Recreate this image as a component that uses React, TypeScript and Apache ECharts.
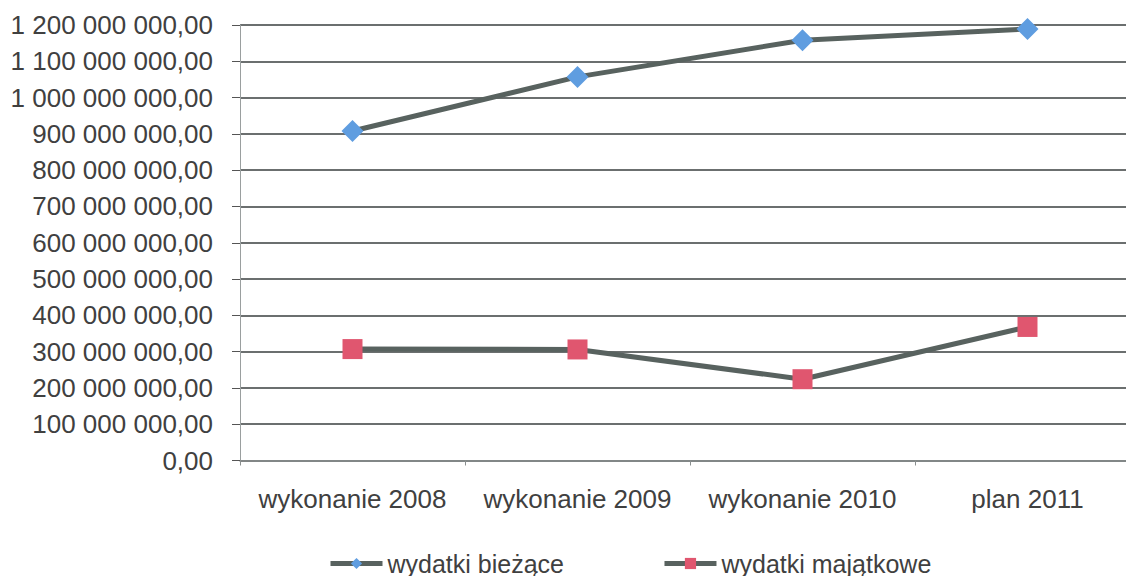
import React, { useEffect, useRef } from "react";
import * as echarts from "echarts";

const categories = ["wykonanie 2008", "wykonanie 2009", "wykonanie 2010", "plan 2011"];
const wydatkiBiezace = [908000000, 1057000000, 1158000000, 1189000000];
const wydatkiMajatkowe = [307000000, 306000000, 224000000, 368000000];
const seriesNames = ["wydatki bieżące", "wydatki majątkowe"];

const FONT = "'Liberation Sans', Arial, sans-serif";
const TEXT = "#404040";
const LINE = "#58625f";

function fmt(v: number): string {
  const s = Math.round(v).toString().replace(/\B(?=(\d{3})+(?!\d))/g, " ");
  return s + ",00";
}

export default function App() {
  const ref = useRef<HTMLDivElement>(null);
  useEffect(() => {
    if (!ref.current) return;
    const chart = echarts.init(ref.current, undefined, { renderer: "svg" });
    chart.setOption({
      animation: false,
      backgroundColor: "#ffffff",
      textStyle: { fontFamily: FONT },
      grid: { left: 240, top: 25, width: 900, height: 435.5, containLabel: false },
      legend: {
        left: 323,
        top: 546,
        itemWidth: 52,
        itemHeight: 14,
        itemGap: 98,
        lineStyle: { width: 5 },
        textStyle: { fontSize: 25, color: TEXT, fontFamily: FONT },
        data: seriesNames,
      },
      xAxis: {
        type: "category",
        data: categories,
        boundaryGap: true,
        axisLine: { show: true, lineStyle: { color: "#8a8f8f", width: 1.5 } },
        axisTick: { show: true, length: 5, alignWithLabel: false, lineStyle: { color: "#8a8f8f" } },
        axisLabel: { fontSize: 26, color: TEXT, margin: 25, fontFamily: FONT, interval: 0 },
        splitLine: { show: false },
      },
      yAxis: {
        type: "value",
        min: 0,
        max: 1200000000,
        interval: 100000000,
        axisLine: { show: true, lineStyle: { color: "#9a9f9f", width: 1 } },
        axisTick: { show: true, length: 8, inside: false, lineStyle: { color: "#555" } },
        axisLabel: { fontSize: 26, color: TEXT, margin: 27, fontFamily: FONT, formatter: (v: number) => fmt(v) },
        splitLine: { show: true, lineStyle: { color: "#3a3f3f", width: 1.5 } },
      },
      series: [
        {
          name: seriesNames[0],
          type: "line",
          data: wydatkiBiezace,
          symbol: "diamond",
          symbolSize: 22,
          itemStyle: { color: "#5f9de0" },
          lineStyle: { color: LINE, width: 5 },
        },
        {
          name: seriesNames[1],
          type: "line",
          data: wydatkiMajatkowe,
          symbol: "rect",
          symbolSize: 20,
          itemStyle: { color: "#e0566f" },
          lineStyle: { color: LINE, width: 5 },
        },
      ],
    });
    return () => chart.dispose();
  }, []);
  return (
    <div style={{ position: "fixed", left: 0, top: 0, width: 1126, height: 576, overflow: "hidden", background: "#fff" }}>
      <div ref={ref} style={{ width: 1150, height: 576 }} />
    </div>
  );
}
